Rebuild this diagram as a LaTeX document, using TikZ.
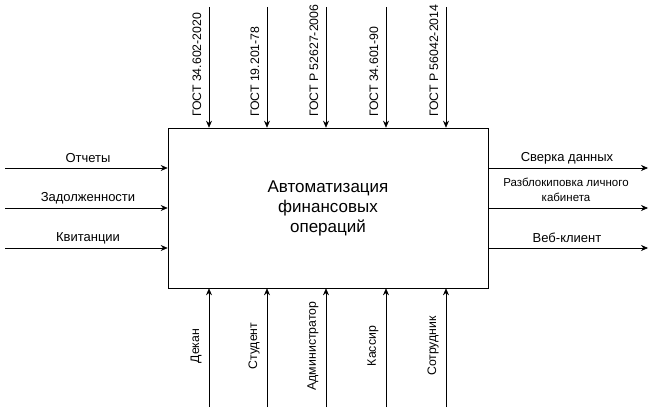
\documentclass[tikz,border=0pt]{standalone}
\usepackage{fontspec}
\setmainfont{Liberation Sans}
\usetikzlibrary{arrows.meta}

\begin{document}
\begin{tikzpicture}[x=1pt,y=-1pt,
    arr/.style={-{Stealth[length=7pt,width=6pt]},semithick},
    lbl/.style={font=\fontsize{13}{15}\selectfont,inner sep=1pt},
    vlbl/.style={font=\fontsize{12.3}{14}\selectfont,inner sep=1pt,rotate=90}]
                \useasboundingbox (0,0) rectangle (658,417);
 
                \node[draw,semithick,minimum width=320pt,minimum height=160pt,align=center,
                      font=\fontsize{17}{20}\selectfont] (box) at (328,208)
                      {Автоматизация\\финансовых\\операций}; %блок

                % управление сверху
                \foreach \x/\n/\t in {209/1/ГОСТ 34.602-2020,267/2/ГОСТ 19.201-78,326/3/ГОСТ Р 52627-2006,386/4/ГОСТ 34.601-90,446/5/ГОСТ Р 56042-2014}{
                  \coordinate (top\n) at (\x,7);
                  \draw[arr] (top\n) -- (top\n |- box.north);
                  \node[vlbl,anchor=west] (ctl\n) at (\x-12,118) {\t};
                }

                % механизмы снизу
                \foreach \x/\n/\t in {209/1/Декан,267/2/Студент,326/3/Администратор,386/4/Кассир,446/5/Сотрудник}{
                  \coordinate (bot\n) at (\x,407);
                  \draw[arr] (bot\n) -- (bot\n |- box.south);
                  \node[vlbl] (mech\n) at (\x-13,346) {\t};
                }

                % входы
                \foreach \y/\n/\t in {168/1/Отчеты,208/2/Задолженности,248/3/Квитанции}{
                  \coordinate (in\n) at (5,\y);
                  \draw[arr] (in\n) -- (in\n -| box.west);
                  \node[lbl] (inl\n) at (88,\y-10) {\t};
                }

                % выходы
                \foreach \y/\n in {168/1,208/2,248/3}{
                  \coordinate (out\n) at (648,\y);
                  \draw[arr] (out\n -| box.east) -- (out\n);
                }
                \node[lbl] (outl1) at (567,158) {Сверка данных};
                \node[lbl,align=center,font=\fontsize{11.5}{15}\selectfont] (outl2) at (566,190) {Разблокиповка личного\\кабинета};
                \node[lbl] (outl3) at (567,238) {Веб-клиент};
 
\end{tikzpicture}
\end{document}
